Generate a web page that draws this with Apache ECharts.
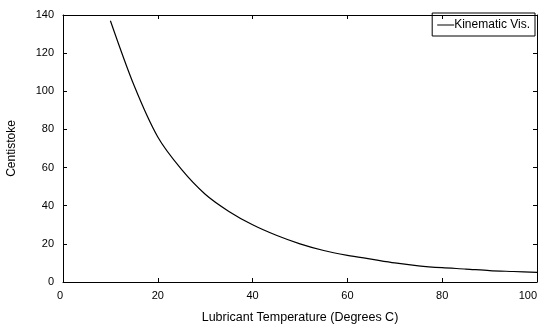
<!DOCTYPE html>
<html>
<head>
<meta charset="utf-8">
<script src="https://cdn.jsdelivr.net/npm/echarts@6/dist/echarts.min.js"></script>
<style>
  html, body { margin: 0; padding: 0; background: #fff; }
  #chart { width: 540px; height: 327px; }
</style>
</head>
<body>
<div id="chart"></div>
<script>
// values
const temps = [10, 15, 20, 25, 30, 35, 40, 45, 50, 55, 60, 65, 70, 75, 80, 85, 90, 95, 100];
const visc = [137, 103, 76, 59, 46, 37, 30, 24.5, 20, 16.5, 14, 12, 10, 8.5, 7.5, 6.8, 6, 5.5, 5];
const seriesName = 'Kinematic Vis.';

const font = 'Liberation Sans, Arial, sans-serif';
const myChart = echarts.init(document.getElementById('chart'));

// x/y axes drawn as a box with inside ticks
const axisBase = {
  axisLine: { show: true, onZero: false, lineStyle: { color: '#000', width: 1 } },
  axisTick: { show: true, inside: true, length: 4, lineStyle: { color: '#000' } },
  splitLine: { show: false }
};

myChart.setOption({
  animation: false,
  backgroundColor: '#fff',
  textStyle: { fontFamily: font },
  grid: { left: 63, right: 3, top: 15, bottom: 45, outerBoundsMode: 'none', containLabel: false },
  legend: {
    right: 5,
    top: 13,
    data: [seriesName],
    icon: 'rect',
    itemWidth: 17,
    itemHeight: 1,
    itemGap: 0,
    padding: [6, 5, 5, 5],
    borderColor: '#000',
    borderWidth: 1,
    textStyle: { fontFamily: font, fontSize: 12, color: '#000', padding: [0, 0, 0, -5] }
  },
  xAxis: [
    Object.assign({
      type: 'value', min: 0, max: 100, interval: 20,
      name: 'Lubricant Temperature (Degrees C)',
      nameLocation: 'middle', nameGap: 29,
      nameTextStyle: { fontFamily: font, fontSize: 12.5, color: '#000' },
      axisLabel: {
        fontFamily: font, fontSize: 11, color: '#000', margin: 8,
        alignMinLabel: 'right', alignMaxLabel: 'right'
      }
    }, axisBase),
    Object.assign({
      type: 'value', min: 0, max: 100, interval: 20, position: 'top',
      axisLabel: { show: false }
    }, axisBase)
  ],
  yAxis: [
    Object.assign({
      type: 'value', min: 0, max: 140, interval: 20,
      name: 'Centistoke',
      nameLocation: 'middle', nameGap: 45,
      nameTextStyle: { fontFamily: font, fontSize: 12, color: '#000' },
      axisLabel: { fontFamily: font, fontSize: 11, color: '#000', margin: 9 }
    }, axisBase),
    Object.assign({
      type: 'value', min: 0, max: 140, interval: 20, position: 'right',
      axisLabel: { show: false }
    }, axisBase)
  ],
  series: [
    {
      name: seriesName,
      type: 'line',
      smooth: 0.3,
      symbol: 'none',
      lineStyle: { color: '#000', width: 1.2 },
      itemStyle: { color: '#000' },
      data: temps.map((t, i) => [t, visc[i]])
    }
  ]
});
</script>
</body>
</html>
